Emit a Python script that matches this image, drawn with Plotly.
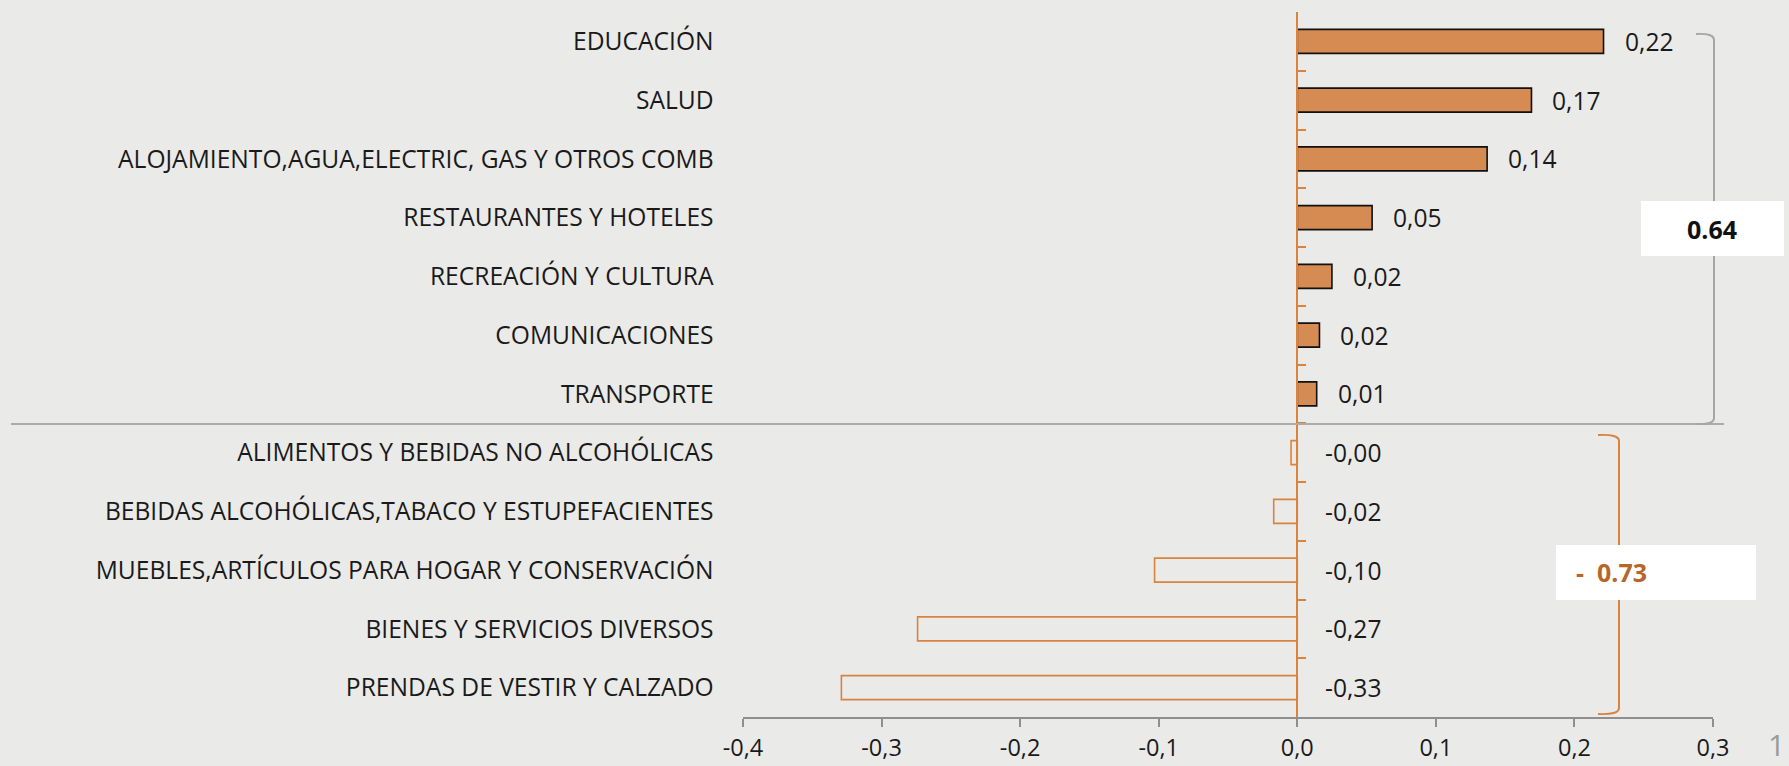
import plotly.graph_objects as go

categorias = [
    'EDUCACIÓN', 'SALUD', 'ALOJAMIENTO,AGUA,ELECTRIC, GAS Y OTROS COMB',
    'RESTAURANTES Y HOTELES', 'RECREACIÓN Y CULTURA', 'COMUNICACIONES', 'TRANSPORTE',
    'ALIMENTOS Y BEBIDAS NO ALCOHÓLICAS', 'BEBIDAS ALCOHÓLICAS,TABACO Y ESTUPEFACIENTES',
    'MUEBLES,ARTÍCULOS PARA HOGAR Y CONSERVACIÓN', 'BIENES Y SERVICIOS DIVERSOS',
    'PRENDAS DE VESTIR Y CALZADO'
]
incidencia = [0.221, 0.169, 0.137, 0.054, 0.025, 0.016, 0.014,
              -0.0045, -0.017, -0.103, -0.274, -0.329]
etiquetas = ['0,22', '0,17', '0,14', '0,05', '0,02', '0,02', '0,01',
             '-0,00', '-0,02', '-0,10', '-0,27', '-0,33']
x_ticks = [-0.4, -0.3, -0.2, -0.1, 0.0, 0.1, 0.2, 0.3]
x_ticktext = ['-0,4', '-0,3', '-0,2', '-0,1', '0,0', '0,1', '0,2', '0,3']
total_pos = '0.64'
total_neg = '-\u00a0\u00a00.73'

W, H = 1789, 766
NARANJA = '#D8843F'
RELLENO = '#D68B53'
GRIS = '#8f8f8f'
FONT = 'Open Sans'
FS = 24.6

# plot box in pixels
x_left, x_right, y_top, y_bot = 743, 1713, 12, 717
x_rng = [-0.4, 0.3]


def px(x):
    return x / W


def py(y):
    return 1 - y / H


x0_pos = px(x_left) + (0 - x_rng[0]) / (x_rng[1] - x_rng[0]) * (px(x_right) - px(x_left))

fig = go.Figure()
fig.add_trace(go.Bar(
    x=incidencia, y=categorias, orientation='h',
    marker=dict(
        color=[RELLENO if v > 0 else 'rgba(0,0,0,0)' for v in incidencia],
        line=dict(color=['#111111' if v > 0 else NARANJA for v in incidencia], width=1.6)
    ),
    hoverinfo='skip', showlegend=False
))

annotations = []
for cat, v, lab in zip(categorias, incidencia, etiquetas):
    annotations.append(dict(
        x=max(v, 0), y=cat, xref='x', yref='y', text=lab, showarrow=False,
        xanchor='left', yanchor='middle', xshift=19 if v > 0 else 26,
        font=dict(family=FONT, size=FS, color='#1a1a1a')
    ))

annotations += [
    dict(x=px(1712), y=py(229), xref='paper', yref='paper', text='<b>' + total_pos + '</b>',
         showarrow=False, xanchor='center', yanchor='middle',
         font=dict(family=FONT, size=25, color='#111111')),
    dict(x=px(1574), y=py(572), xref='paper', yref='paper', text='<b>' + total_neg + '</b>',
         showarrow=False, xanchor='left', yanchor='middle',
         font=dict(family=FONT, size=25, color='#B8652A')),
    dict(x=px(1787), y=py(744), xref='paper', yref='paper', text='1',
         showarrow=False, xanchor='right', yanchor='middle',
         font=dict(family=FONT, size=30, color='#9a9a9a')),
]

shapes = [
    # separator line between positive and negative groups
    dict(type='line', xref='paper', yref='paper', x0=px(11), x1=px(1724), y0=py(424), y1=py(424),
         line=dict(color='#ababab', width=2)),
    # gray bracket
    dict(type='path', xref='paper', yref='paper',
         path=f'M {px(1696)},{py(34)} Q {px(1714)},{py(33)} {px(1714)},{py(40)} '
              f'L {px(1714)},{py(418)} Q {px(1714)},{py(425)} {px(1696)},{py(424)}',
         line=dict(color='#a6a6a6', width=2)),
    # orange bracket
    dict(type='path', xref='paper', yref='paper',
         path=f'M {px(1598)},{py(435)} Q {px(1619)},{py(434)} {px(1619)},{py(441)} '
              f'L {px(1619)},{py(708)} Q {px(1619)},{py(715)} {px(1598)},{py(714)}',
         line=dict(color=NARANJA, width=2)),
    # white boxes
    dict(type='rect', xref='paper', yref='paper', x0=px(1641), x1=px(1784), y0=py(256), y1=py(201),
         fillcolor='white', line=dict(width=0)),
    dict(type='rect', xref='paper', yref='paper', x0=px(1556), x1=px(1756), y0=py(600), y1=py(545),
         fillcolor='white', line=dict(width=0)),
]

fig.update_layout(
    width=W, height=H, autosize=False,
    margin=dict(l=0, r=0, t=0, b=0, pad=0),
    paper_bgcolor='#eaeae9', plot_bgcolor='rgba(0,0,0,0)',
    bargap=0.59,
    font=dict(family=FONT, size=FS, color='#1a1a1a'),
    xaxis=dict(
        domain=[px(x_left), px(x_right)], range=x_rng, automargin=False,
        tickmode='array', tickvals=x_ticks, ticktext=x_ticktext,
        showgrid=False, zeroline=False, showline=True, linecolor=GRIS, linewidth=1.5,
        ticks='outside', ticklen=8, tickcolor=GRIS, tickwidth=1.5, ticklabelstandoff=1,
        tickfont=dict(family=FONT, size=23.5, color='#1a1a1a'), anchor='y'
    ),
    yaxis=dict(
        domain=[py(y_bot), py(y_top)], type='category', categoryorder='array',
        categoryarray=categorias, autorange='reversed', automargin=False,
        anchor='free', position=x0_pos, showline=True, linecolor=NARANJA, linewidth=1.5,
        ticks='inside', ticklen=8, tickcolor=NARANJA, tickwidth=1.5, tickson='boundaries',
        showgrid=False, ticklabelstandoff=578,
        tickfont=dict(family=FONT, size=FS, color='#1a1a1a')
    ),
    annotations=annotations,
    shapes=shapes,
)

fig.write_html('out.html', config={'displayModeBar': False},
               post_script="document.body.style.margin='0';document.body.style.overflow='hidden';")
